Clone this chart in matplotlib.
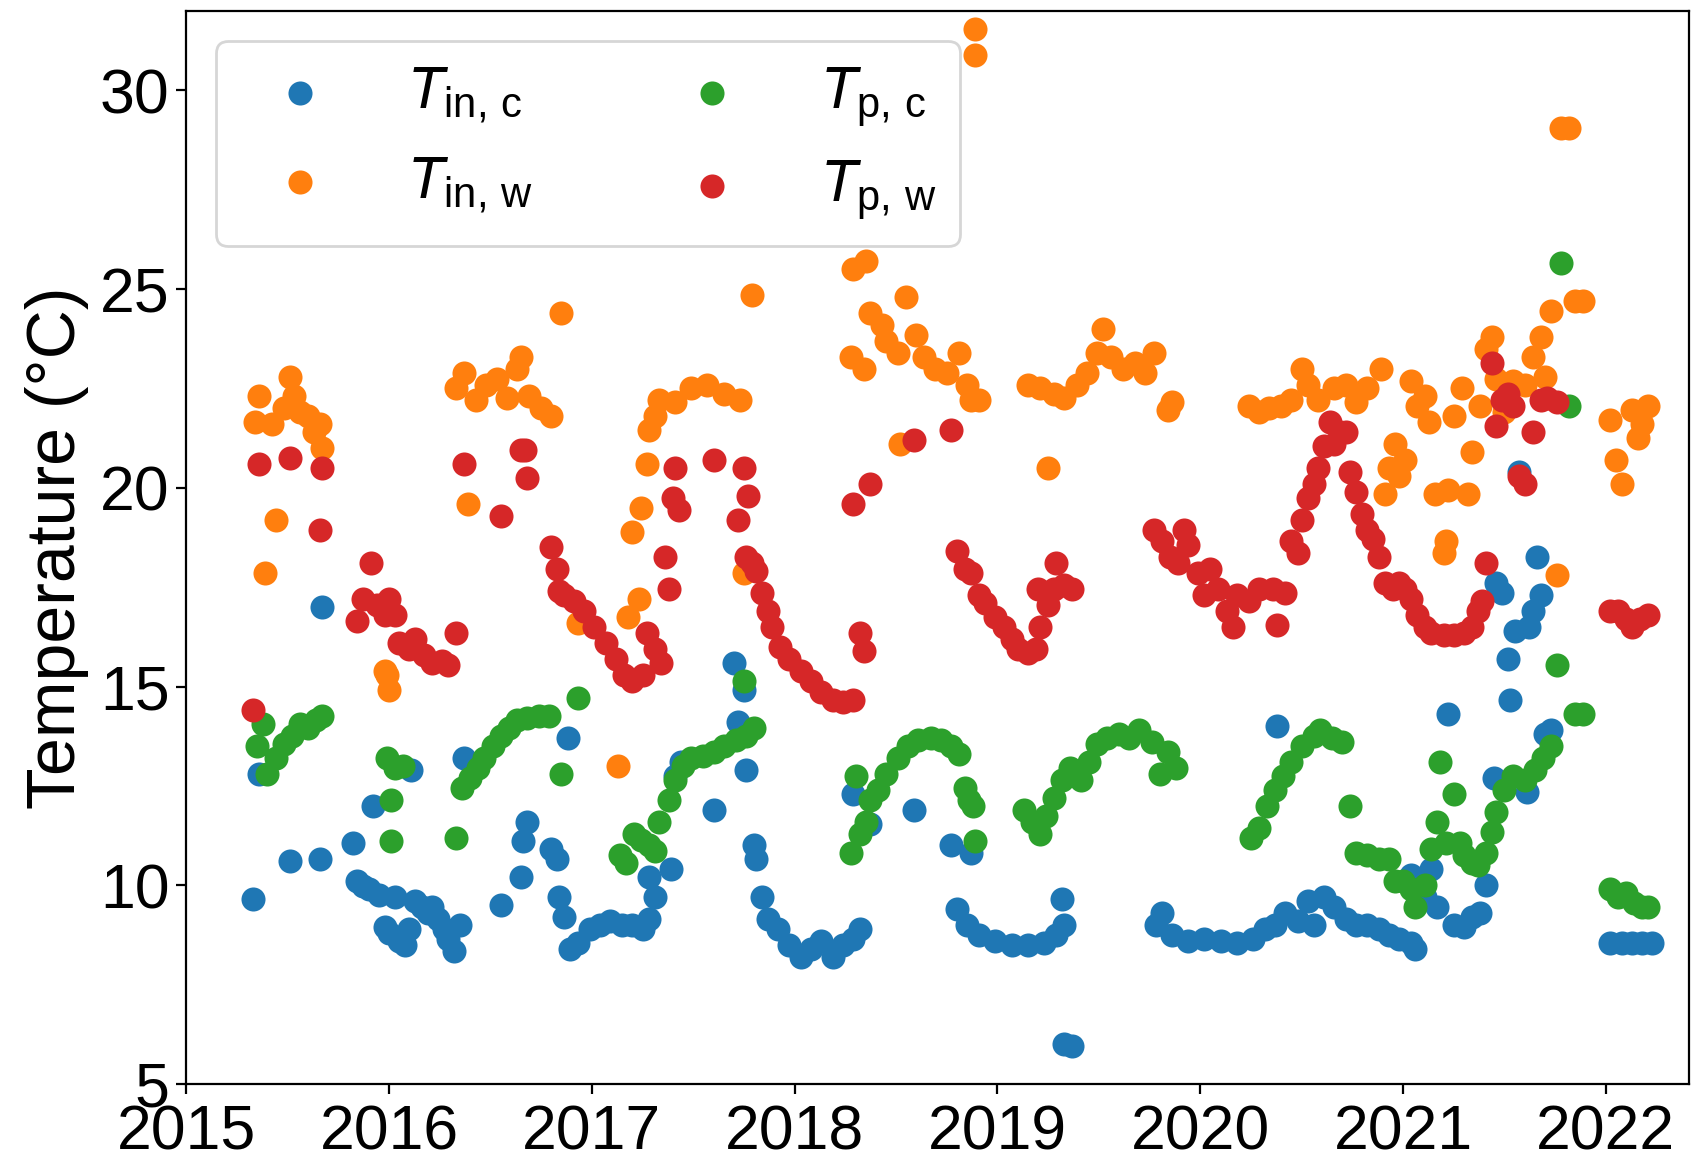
import matplotlib
matplotlib.use("Agg")
import matplotlib.pyplot as plt
import numpy as np

plt.rcParams['font.family'] = ['Liberation Sans', 'DejaVu Sans']
plt.rcParams['mathtext.fontset'] = 'custom'
plt.rcParams['mathtext.rm'] = 'Liberation Sans'
plt.rcParams['mathtext.it'] = 'Liberation Sans:italic'
plt.rcParams['font.size'] = 23

# inlet temperature, cold side (decimal year, degC)
t_in_c = [2015.33, 2015.36, 2015.51, 2015.66, 2015.67, 2015.82, 2015.84, 2015.87, 2015.90, 2015.92,
          2015.95, 2015.98, 2016.00, 2016.03, 2016.05, 2016.08, 2016.10, 2016.11, 2016.13, 2016.16,
          2016.19, 2016.21, 2016.24, 2016.27, 2016.29, 2016.32, 2016.35, 2016.37, 2016.55, 2016.65,
          2016.66, 2016.68, 2016.80, 2016.83, 2016.84, 2016.86, 2016.88, 2016.89, 2016.93, 2016.99,
          2017.04, 2017.09, 2017.15, 2017.20, 2017.25, 2017.28, 2017.28, 2017.31, 2017.39, 2017.41,
          2017.44, 2017.60, 2017.70, 2017.72, 2017.75, 2017.76, 2017.80, 2017.81, 2017.84, 2017.87,
          2017.92, 2017.97, 2018.03, 2018.08, 2018.13, 2018.19, 2018.24, 2018.29, 2018.29, 2018.32,
          2018.37, 2018.59, 2018.77, 2018.80, 2018.85, 2018.87, 2018.91, 2018.99, 2019.07, 2019.15,
          2019.23, 2019.29, 2019.32, 2019.33, 2019.33, 2019.37, 2019.78, 2019.81, 2019.86, 2019.94,
          2020.02, 2020.10, 2020.18, 2020.26, 2020.32, 2020.37, 2020.38, 2020.42, 2020.48, 2020.53,
          2020.56, 2020.61, 2020.66, 2020.72, 2020.77, 2020.82, 2020.88, 2020.93, 2020.98, 2021.04,
          2021.04, 2021.06, 2021.11, 2021.14, 2021.17, 2021.22, 2021.25, 2021.30, 2021.34, 2021.38,
          2021.41, 2021.45, 2021.46, 2021.49, 2021.52, 2021.53, 2021.55, 2021.57, 2021.61, 2021.62,
          2021.64, 2021.66, 2021.68, 2021.70, 2021.73, 2022.02, 2022.08, 2022.13, 2022.18, 2022.23]
v_in_c = [9.65, 12.8, 10.6, 10.65, 17.0, 11.05, 10.1, 9.97, 9.9, 12.0,
          9.75, 8.95, 8.8, 9.7, 8.6, 8.5, 8.9, 12.9, 9.6, 9.45,
          9.3, 9.45, 9.15, 8.9, 8.65, 8.35, 9.0, 13.2, 9.5, 10.2,
          11.1, 11.6, 10.9, 10.65, 9.7, 9.2, 13.7, 8.4, 8.55, 8.9,
          9.0, 9.1, 9.0, 9.0, 8.9, 9.15, 10.2, 9.7, 10.4, 12.75,
          13.1, 11.9, 15.6, 14.1, 14.9, 12.9, 11.0, 10.65, 9.7, 9.15,
          8.9, 8.5, 8.2, 8.4, 8.6, 8.2, 8.5, 8.65, 12.3, 8.9,
          11.55, 11.9, 11.0, 9.4, 9.0, 10.8, 8.75, 8.6, 8.5, 8.5,
          8.55, 8.75, 9.65, 9.0, 6.0, 5.95, 9.0, 9.3, 8.75, 8.6,
          8.65, 8.6, 8.55, 8.65, 8.9, 9.0, 14.0, 9.3, 9.1, 9.6,
          9.0, 9.7, 9.45, 9.15, 9.0, 9.0, 8.9, 8.75, 8.65, 8.55,
          10.25, 8.4, 9.7, 10.4, 9.45, 14.3, 9.0, 8.95, 9.2, 9.3,
          10.0, 12.7, 17.6, 17.35, 15.7, 14.65, 16.4, 20.4, 12.35, 16.5,
          16.9, 18.25, 17.3, 13.8, 13.9, 8.55, 8.55, 8.55, 8.55, 8.55]

# inlet temperature, warm side
t_in_w = [2015.34, 2015.36, 2015.39, 2015.42, 2015.44, 2015.48, 2015.51, 2015.53, 2015.56, 2015.60,
          2015.63, 2015.66, 2015.67, 2015.98, 2015.99, 2016.00, 2016.33, 2016.37, 2016.39, 2016.43,
          2016.48, 2016.53, 2016.58, 2016.63, 2016.65, 2016.69, 2016.75, 2016.80, 2016.85, 2016.93,
          2017.13, 2017.18, 2017.20, 2017.23, 2017.24, 2017.27, 2017.28, 2017.31, 2017.33, 2017.41,
          2017.49, 2017.57, 2017.65, 2017.73, 2017.75, 2017.79, 2018.28, 2018.29, 2018.34, 2018.35,
          2018.37, 2018.43, 2018.45, 2018.51, 2018.52, 2018.55, 2018.60, 2018.64, 2018.69, 2018.75,
          2018.81, 2018.85, 2018.87, 2018.89, 2018.89, 2018.91, 2019.15, 2019.21, 2019.25, 2019.28,
          2019.33, 2019.39, 2019.44, 2019.49, 2019.52, 2019.56, 2019.62, 2019.68, 2019.73, 2019.77,
          2019.84, 2019.86, 2020.24, 2020.29, 2020.34, 2020.40, 2020.45, 2020.50, 2020.53, 2020.58,
          2020.66, 2020.72, 2020.77, 2020.82, 2020.89, 2020.91, 2020.93, 2020.96, 2020.98, 2021.01,
          2021.04, 2021.07, 2021.11, 2021.13, 2021.16, 2021.20, 2021.21, 2021.22, 2021.25, 2021.29,
          2021.32, 2021.34, 2021.38, 2021.41, 2021.44, 2021.46, 2021.50, 2021.54, 2021.60, 2021.64,
          2021.68, 2021.70, 2021.73, 2021.76, 2021.78, 2021.82, 2021.85, 2021.89, 2022.02, 2022.05,
          2022.08, 2022.13, 2022.16, 2022.18, 2022.21]
v_in_w = [21.65, 22.3, 17.85, 21.6, 19.2, 22.0, 22.8, 22.3, 21.9, 21.8,
          21.4, 21.6, 21.0, 15.4, 15.3, 14.9, 22.5, 22.9, 19.6, 22.2,
          22.6, 22.75, 22.25, 23.0, 23.3, 22.3, 22.0, 21.8, 24.4, 16.6,
          13.0, 16.75, 18.9, 17.2, 19.5, 20.6, 21.45, 21.8, 22.2, 22.15,
          22.5, 22.6, 22.35, 22.2, 17.85, 24.85, 23.3, 25.5, 23.0, 25.7,
          24.4, 24.1, 23.7, 23.4, 21.1, 24.8, 23.85, 23.3, 23.0, 22.9,
          23.4, 22.6, 22.2, 30.9, 31.55, 22.2, 22.6, 22.5, 20.5, 22.35,
          22.25, 22.6, 22.9, 23.4, 24.0, 23.3, 23.0, 23.15, 22.9, 23.4,
          21.95, 22.15, 22.05, 21.9, 22.0, 22.05, 22.2, 23.0, 22.6, 22.2,
          22.5, 22.6, 22.15, 22.5, 23.0, 19.85, 20.5, 21.1, 20.3, 20.7,
          22.7, 22.05, 22.3, 21.65, 19.85, 18.35, 18.65, 19.95, 21.8, 22.5,
          19.85, 20.9, 22.05, 23.5, 23.8, 22.75, 21.9, 22.7, 22.6, 23.3,
          23.8, 22.8, 24.45, 17.8, 29.05, 29.05, 24.7, 24.7, 21.7, 20.7,
          20.1, 21.95, 21.25, 21.6, 22.05]

# pipe temperature, cold side
t_p_c = [2015.35, 2015.38, 2015.40, 2015.44, 2015.48, 2015.52, 2015.56, 2015.60, 2015.64, 2015.67,
         2015.99, 2016.01, 2016.01, 2016.03, 2016.07, 2016.33, 2016.36, 2016.40, 2016.44, 2016.47,
         2016.51, 2016.55, 2016.59, 2016.63, 2016.68, 2016.74, 2016.79, 2016.85, 2016.93, 2017.14,
         2017.17, 2017.21, 2017.24, 2017.28, 2017.31, 2017.33, 2017.38, 2017.41, 2017.45, 2017.49,
         2017.55, 2017.60, 2017.65, 2017.71, 2017.75, 2017.76, 2017.80, 2018.28, 2018.30, 2018.32,
         2018.35, 2018.37, 2018.41, 2018.45, 2018.51, 2018.56, 2018.61, 2018.67, 2018.72, 2018.77,
         2018.81, 2018.84, 2018.86, 2018.88, 2018.89, 2019.13, 2019.17, 2019.21, 2019.24, 2019.28,
         2019.32, 2019.36, 2019.41, 2019.45, 2019.49, 2019.54, 2019.60, 2019.65, 2019.70, 2019.76,
         2019.80, 2019.84, 2019.88, 2020.25, 2020.29, 2020.33, 2020.37, 2020.41, 2020.45, 2020.50,
         2020.56, 2020.59, 2020.65, 2020.70, 2020.74, 2020.77, 2020.82, 2020.88, 2020.93, 2020.96,
         2021.00, 2021.04, 2021.06, 2021.11, 2021.14, 2021.17, 2021.18, 2021.21, 2021.25, 2021.28,
         2021.30, 2021.34, 2021.37, 2021.41, 2021.44, 2021.46, 2021.50, 2021.54, 2021.60, 2021.65,
         2021.69, 2021.73, 2021.76, 2021.78, 2021.82, 2021.85, 2021.89, 2022.02, 2022.06, 2022.10,
         2022.14, 2022.18, 2022.21]
v_p_c = [13.5, 14.05, 12.8, 13.2, 13.55, 13.75, 14.05, 13.95, 14.15, 14.25,
         13.2, 12.15, 11.1, 12.95, 13.0, 11.2, 12.45, 12.7, 12.95, 13.2,
         13.5, 13.75, 13.95, 14.15, 14.2, 14.25, 14.25, 12.8, 14.7, 10.75,
         10.55, 11.3, 11.15, 11.0, 10.85, 11.6, 12.15, 12.65, 13.0, 13.2,
         13.25, 13.35, 13.5, 13.65, 15.15, 13.75, 13.95, 10.8, 12.75, 11.3,
         11.6, 12.15, 12.4, 12.8, 13.2, 13.5, 13.65, 13.7, 13.65, 13.5,
         13.3, 12.45, 12.15, 12.0, 11.1, 11.9, 11.6, 11.3, 11.75, 12.2,
         12.65, 12.95, 12.65, 13.1, 13.55, 13.7, 13.8, 13.7, 13.9, 13.6,
         12.8, 13.35, 12.95, 11.2, 11.45, 12.0, 12.4, 12.75, 13.1, 13.5,
         13.75, 13.9, 13.7, 13.6, 12.0, 10.8, 10.75, 10.65, 10.65, 10.1,
         10.1, 9.9, 9.45, 10.0, 10.9, 11.6, 13.1, 11.05, 12.3, 11.05,
         10.75, 10.55, 10.5, 10.8, 11.35, 11.85, 12.4, 12.75, 12.65, 12.9,
         13.2, 13.5, 15.55, 25.65, 22.05, 14.3, 14.3, 9.9, 9.7, 9.8,
         9.55, 9.45, 9.45]

# pipe temperature, warm side
t_p_w = [2015.33, 2015.36, 2015.51, 2015.66, 2015.67, 2015.84, 2015.87, 2015.91, 2015.94, 2015.98,
         2016.00, 2016.03, 2016.05, 2016.10, 2016.13, 2016.17, 2016.21, 2016.26, 2016.29, 2016.33,
         2016.37, 2016.55, 2016.65, 2016.67, 2016.68, 2016.80, 2016.83, 2016.84, 2016.86, 2016.91,
         2016.96, 2017.01, 2017.07, 2017.12, 2017.16, 2017.20, 2017.25, 2017.27, 2017.31, 2017.34,
         2017.36, 2017.38, 2017.40, 2017.41, 2017.43, 2017.60, 2017.72, 2017.75, 2017.76, 2017.77,
         2017.79, 2017.81, 2017.84, 2017.87, 2017.89, 2017.93, 2017.97, 2018.03, 2018.08, 2018.13,
         2018.19, 2018.24, 2018.29, 2018.29, 2018.32, 2018.34, 2018.37, 2018.59, 2018.77, 2018.80,
         2018.84, 2018.87, 2018.91, 2018.94, 2018.99, 2019.03, 2019.07, 2019.10, 2019.15, 2019.19,
         2019.20, 2019.21, 2019.25, 2019.28, 2019.29, 2019.33, 2019.37, 2019.77, 2019.81, 2019.85,
         2019.89, 2019.92, 2019.94, 2019.99, 2020.02, 2020.05, 2020.09, 2020.13, 2020.16, 2020.18,
         2020.24, 2020.29, 2020.36, 2020.38, 2020.42, 2020.45, 2020.48, 2020.50, 2020.53, 2020.56,
         2020.58, 2020.61, 2020.64, 2020.66, 2020.69, 2020.72, 2020.74, 2020.77, 2020.80, 2020.82,
         2020.85, 2020.88, 2020.91, 2020.95, 2020.98, 2021.01, 2021.04, 2021.07, 2021.11, 2021.14,
         2021.20, 2021.25, 2021.30, 2021.34, 2021.37, 2021.39, 2021.41, 2021.44, 2021.46, 2021.49,
         2021.52, 2021.54, 2021.57, 2021.60, 2021.64, 2021.68, 2021.71, 2021.76, 2022.02, 2022.06,
         2022.10, 2022.13, 2022.17, 2022.21]
v_p_w = [14.4, 20.6, 20.75, 18.95, 20.5, 16.65, 17.2, 18.1, 17.05, 16.8,
         17.2, 16.8, 16.1, 15.95, 16.2, 15.8, 15.6, 15.65, 15.55, 16.35,
         20.6, 19.3, 20.95, 20.95, 20.25, 18.5, 17.95, 17.4, 17.3, 17.15,
         16.9, 16.5, 16.1, 15.7, 15.3, 15.15, 15.3, 16.35, 15.95, 15.6,
         18.25, 17.45, 19.75, 20.5, 19.45, 20.7, 19.2, 20.5, 18.25, 19.8,
         18.1, 17.9, 17.35, 16.9, 16.5, 16.0, 15.7, 15.4, 15.15, 14.85,
         14.65, 14.6, 14.65, 19.6, 16.35, 15.9, 20.1, 21.2, 21.45, 18.4,
         17.95, 17.85, 17.3, 17.1, 16.75, 16.5, 16.2, 15.95, 15.85, 15.95,
         17.45, 16.5, 17.05, 17.45, 18.1, 17.55, 17.45, 18.95, 18.65, 18.25,
         18.1, 18.95, 18.55, 17.85, 17.3, 17.95, 17.45, 16.9, 16.5, 17.3,
         17.15, 17.45, 17.45, 16.55, 17.35, 18.65, 18.35, 19.2, 19.75, 20.1,
         20.5, 21.05, 21.65, 21.1, 21.4, 21.4, 20.4, 19.9, 19.35, 18.95,
         18.7, 18.25, 17.6, 17.45, 17.6, 17.45, 17.2, 16.8, 16.5, 16.35,
         16.3, 16.3, 16.35, 16.5, 16.9, 17.15, 18.1, 23.15, 21.55, 22.2,
         22.35, 22.05, 20.3, 20.1, 21.4, 22.2, 22.25, 22.15, 16.9, 16.9,
         16.7, 16.5, 16.7, 16.8]

series = [
    (t_in_c, v_in_c, 'tab:blue', r'$T_\mathrm{in,\,c}$'),
    (t_in_w, v_in_w, 'tab:orange', r'$T_\mathrm{in,\,w}$'),
    (t_p_c, v_p_c, 'tab:green', r'$T_\mathrm{p,\,c}$'),
    (t_p_w, v_p_w, 'tab:red', r'$T_\mathrm{p,\,w}$'),
]

fig, ax = plt.subplots(figsize=(8.47, 5.79), dpi=200)
fig.subplots_adjust(left=0.110, right=0.997, top=0.9905, bottom=0.064)

for t, v, c, lab in series:
    ax.scatter(t, v, s=75, color=c, label=lab, linewidths=0)

ax.set_xlim(2015.0, 2022.41)
ax.set_ylim(5, 32)
ax.set_xticks(np.arange(2015, 2023))
ax.set_yticks([5, 10, 15, 20, 25, 30])
ax.tick_params(labelsize=22.5)
ax.tick_params(axis='x', pad=3.5)
ax.tick_params(axis='y', pad=2.5)
ax.set_ylabel('Temperature (°C)', fontsize=24.5, labelpad=4)
ax.legend(loc='upper left', ncol=2, fontsize=21.5)

fig.savefig('out.png')
